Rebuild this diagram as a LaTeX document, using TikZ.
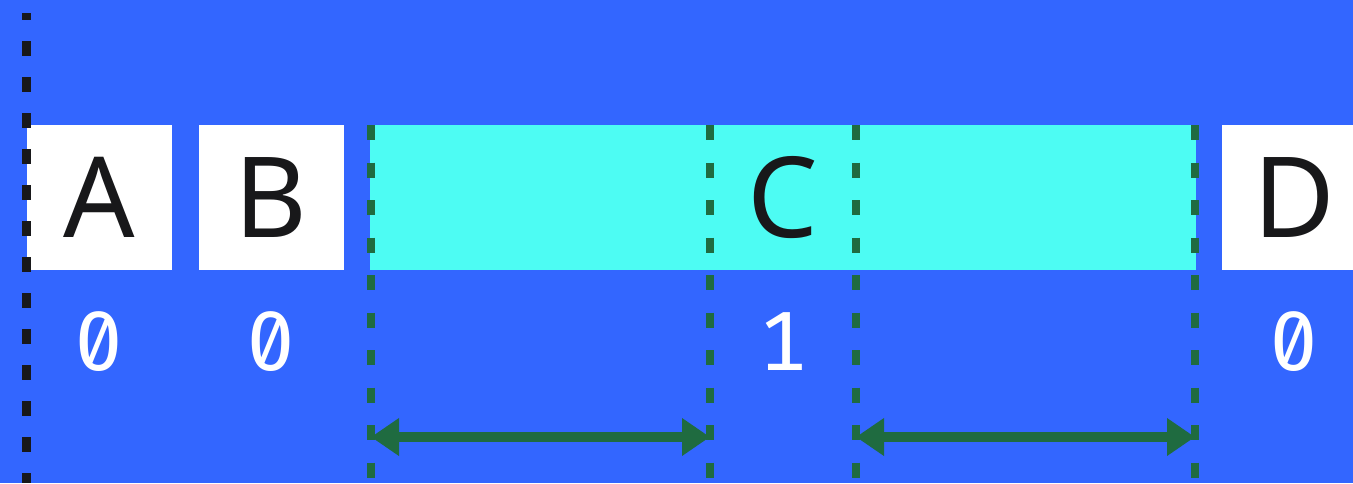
\documentclass[tikz,border=0pt]{standalone}
\usepackage{fontspec}
\setmainfont{Noto Sans}
\newfontfamily\countfont[Numbers={SlashedZero,Monospaced}]{Fira Sans}
\usetikzlibrary{arrows.meta}
\definecolor{bgblue}{HTML}{3366FF}
\definecolor{slotcyan}{HTML}{4DFCF3}
\definecolor{guidegreen}{HTML}{1F6B40}
\definecolor{inkblack}{HTML}{18181A}

\begin{document}
\begin{tikzpicture}[x=1pt,y=1pt,
    cell/.style={fill=white,minimum width=145pt,minimum height=145pt,inner sep=0pt,outer sep=0pt,
      text=inkblack,font=\fontsize{112}{112}\selectfont},
    count/.style={inner sep=0pt,text=white,font=\countfont\fontsize{84}{84}\selectfont},
    guide/.style={draw=guidegreen,line width=8pt,dash pattern=on 15pt off 22.5pt},
    span/.style={draw=guidegreen,line width=10pt,
      {Triangle[length=28pt,width=36pt]}-{Triangle[length=28pt,width=36pt]}}]
  \fill[bgblue] (0,0) rectangle (1353,-483);
  \useasboundingbox (0,0) rectangle (1353,-483);
  % cells
  \node[cell] (A) at (99.5,-197.5) {A};
  \node[cell] (B) at (271,-197.5) {B};
  \node[cell,fill=slotcyan,minimum width=826pt] (C) at (783,-197.5) {C};
  \node[cell] (D) at (1294,-197.5) {D};
  % counts
  \node[count] (nA) at (99.5,-342) {0};
  \node[count] (nB) at (271,-342) {0};
  \node[count] (nC) at (783,-342) {1};
  \node[count] (nD) at (1294,-342) {0};
  % guides
  \coordinate (g1) at (371,-125);
  \coordinate (g2) at (710,-125);
  \coordinate (g3) at (856,-125);
  \coordinate (g4) at (1195,-125);
  \coordinate (bottom) at (0,-483);
  \coordinate (row) at (0,-437);
  \foreach \g in {g1,g2,g3,g4}
    \draw[guide] (\g) -- (\g |- bottom);
  \draw[span] (g1 |- row) -- (g2 |- row);
  \draw[span] (g3 |- row) -- (g4 |- row);
  % origin
  \coordinate (o) at (26.5,-13);
  \draw[draw=inkblack,line width=9pt,dash pattern=on 15pt off 21pt,dash phase=8pt] (o) -- (o |- bottom);
\end{tikzpicture}
\end{document}
